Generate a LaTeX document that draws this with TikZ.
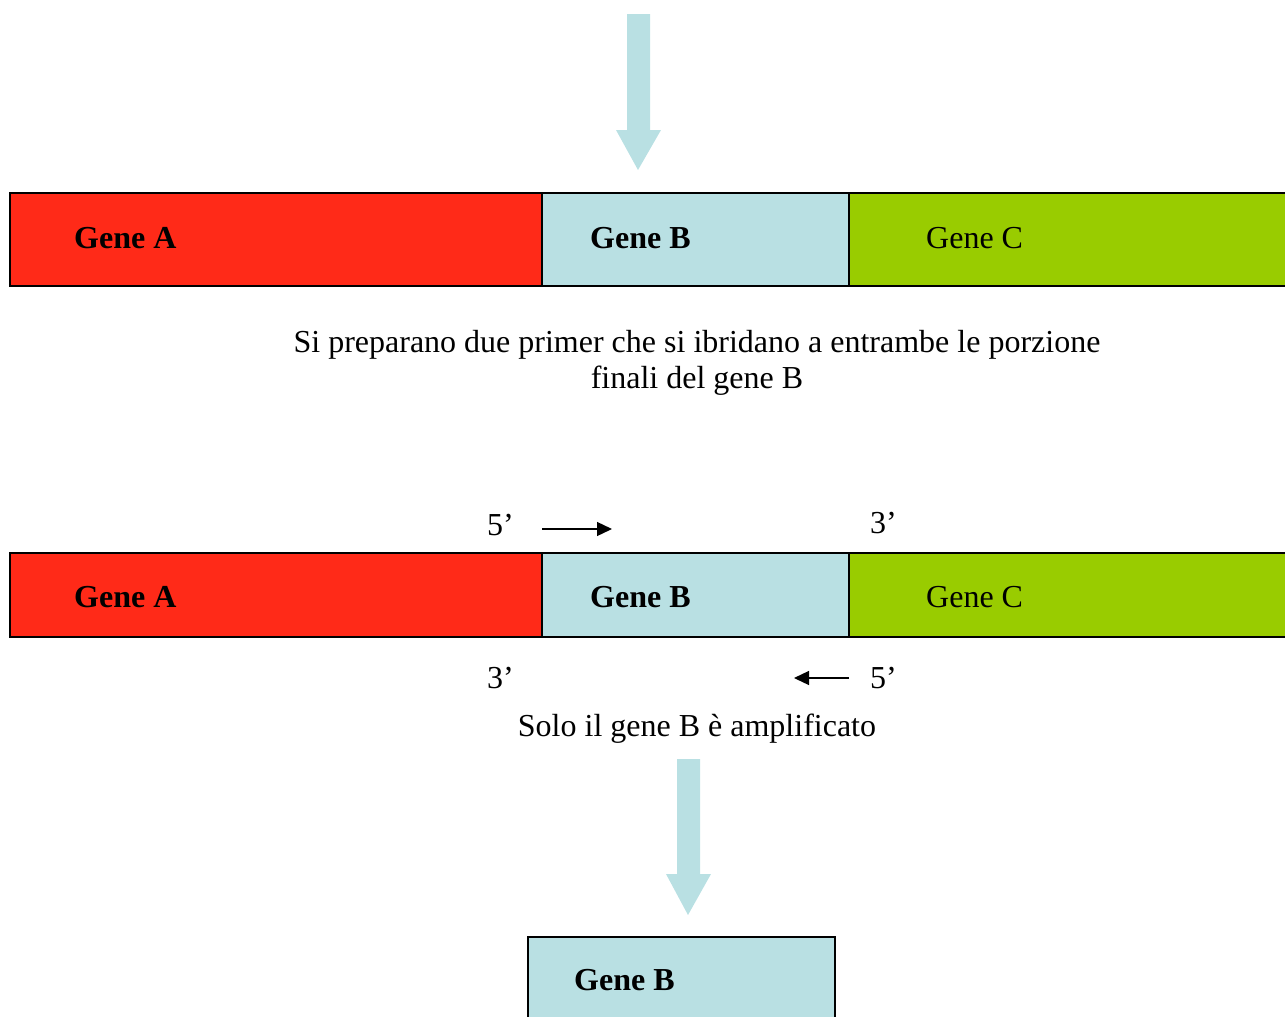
\documentclass[tikz,border=0pt]{standalone}
\usepackage{fontspec}
\setmainfont{Liberation Serif}
\usepackage{tikz}
\usetikzlibrary{arrows.meta, positioning}

\definecolor{geneAred}{HTML}{FF2A18}
\definecolor{geneBblue}{HTML}{B9E0E3}
\definecolor{geneCgreen}{HTML}{99CC00}

\begin{document}
\begin{tikzpicture}[x=1pt, y=-1pt,
  txt/.style={inner sep=0pt, font=\fontsize{32}{36}\selectfont},
  boldtxt/.style={txt, font=\fontsize{32}{36}\selectfont\bfseries},
  bar/.style={draw=black, line width=1.6pt},
  primer/.style={line width=1.3pt, -{Triangle[length=15pt, width=14pt]}},
  bigarrow/.style={fill=geneBblue}]
  \useasboundingbox (0,0) rectangle (1285,1017);

  % big arrow on top
  \fill[bigarrow] (627,14) -- (650,14) -- (650,130) -- (661,130) -- (638,170)
    -- (616,130) -- (627,130) -- cycle;

  % first gene row
  \draw[bar, fill=geneAred] (10,193) rectangle (542,286);
  \draw[bar, fill=geneBblue] (542,193) rectangle (849,286);
  \draw[bar, fill=geneCgreen] (849,193) rectangle (1295,286);
  \node[boldtxt, anchor=base west] (gA1) at (74,248) {Gene A};
  \node[boldtxt, anchor=base west] (gB1) at (590,248) {Gene B};
  \node[txt, anchor=base west] (gC1) at (926,248) {Gene C};

  % explanation
  \node[txt, anchor=base, align=center] (note1) at (697,388)
    {Si preparano due primer che si ibridano a entrambe le porzione\\finali del gene B};

  % second gene row with primers
  \draw[bar, fill=geneAred] (10,553) rectangle (542,637);
  \draw[bar, fill=geneBblue] (542,553) rectangle (849,637);
  \draw[bar, fill=geneCgreen] (849,553) rectangle (1295,637);
  \node[boldtxt, anchor=base west] (gA2) at (74,607) {Gene A};
  \node[boldtxt, anchor=base west] (gB2) at (590,607) {Gene B};
  \node[txt, anchor=base west] (gC2) at (926,607) {Gene C};

  \node[txt, anchor=base west] (fiveA) at (487,535) {5’};
  \node[txt, anchor=base west] (threeA) at (870,533) {3’};
  \node[txt, anchor=base west] (threeB) at (487,688) {3’};
  \node[txt, anchor=base west] (fiveB) at (870,688) {5’};
  \coordinate (fwdS) at (542,529);
  \coordinate (fwdE) at (612,529);
  \coordinate (revS) at (849,678);
  \coordinate (revE) at (794,678);
  \draw[primer] (fwdS) -- (fwdE);
  \draw[primer] (revS) -- (revE);

  \node[txt, anchor=base] (note2) at (697,736) {Solo il gene B è amplificato};

  % big arrow to the product
  \fill[bigarrow] (677,759) -- (700,759) -- (700,874) -- (711,874) -- (688,915)
    -- (666,874) -- (677,874) -- cycle;

  % amplified product
  \draw[bar, fill=geneBblue] (528,937) rectangle (835,1030);
  \node[boldtxt, anchor=base west] (gB3) at (574,990) {Gene B};
\end{tikzpicture}
\end{document}
